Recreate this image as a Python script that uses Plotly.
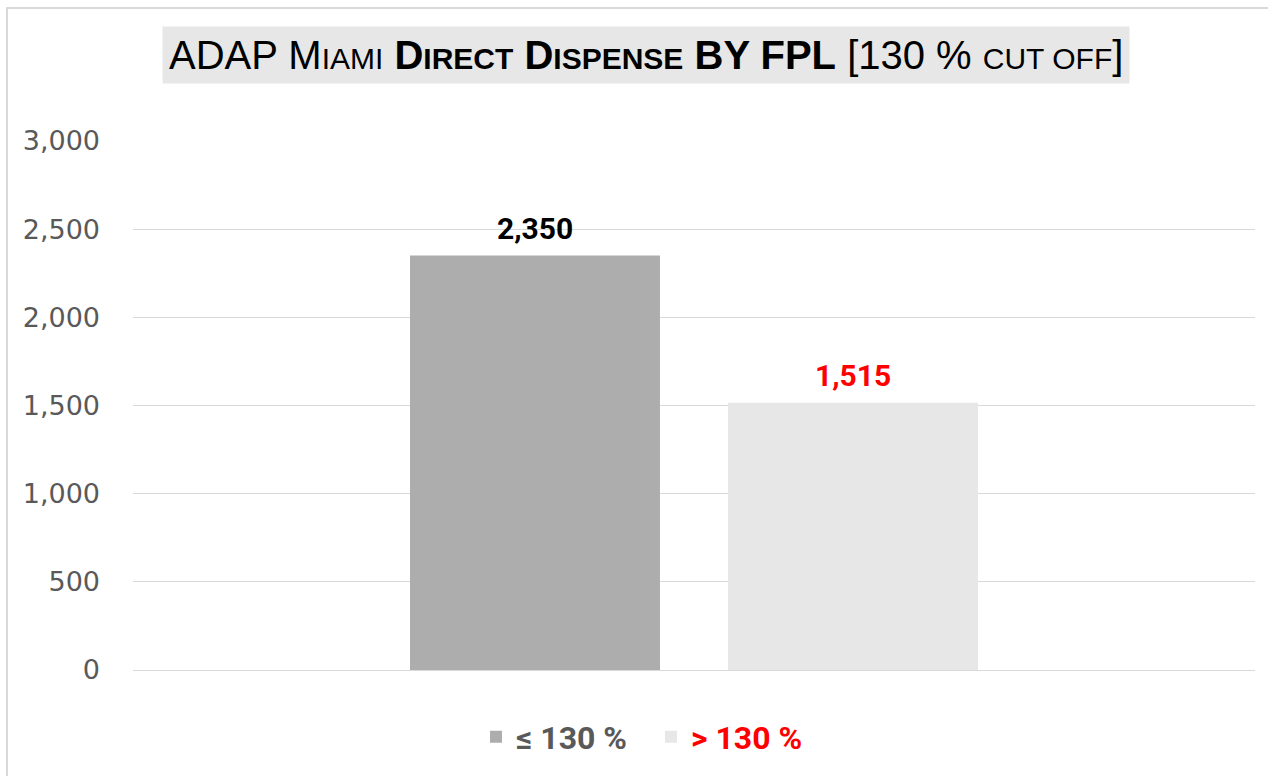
import plotly.graph_objects as go

categories = ["≤ 130 %", "> 130 %"]
values = [2350, 1515]
bar_colors = ["#ADADAD", "#E7E7E7"]
label_colors = ["#000000", "#FF0000"]
legend_colors = ["#595959", "#FF0000"]
tick_vals = [0, 500, 1000, 1500, 2000, 2500, 3000]

W, H = 1268, 776
L, R, T, B = 133, 13, 141, 106
pw, ph = W - L - R, H - T - B

def px_x(x):
    return (x - L) / pw

def px_y(y):
    return (H - B - y) / ph

fig = go.Figure()
annotations = []
for cat, val, col, lcol, lgcol in zip(categories, values, bar_colors, label_colors, legend_colors):
    fig.add_trace(go.Bar(
        x=[cat], y=[val], name=f"<b><span style='color:{lgcol}'>{cat}</span></b>",
        marker=dict(color=col, line=dict(width=0)),
    ))
    annotations.append(dict(x=cat, y=val, xref="x", yref="y", text=f"<b>{val:,}</b>",
                            showarrow=False, yanchor="bottom", yshift=8,
                            font=dict(family="Roboto", size=30, color=lcol)))

s = "font-size:30px"
title = (f"ADAP M<span style='{s}'>IAMI</span> "
         f"<b>D<span style='{s}'>IRECT</span> D<span style='{s}'>ISPENSE</span> BY FPL</b> "
         f"[130 % <span style='{s}'>CUT OFF</span>]")

annotations.append(dict(text=title, xref="paper", yref="paper", x=px_x(646), y=px_y(55),
                        xanchor="center", yanchor="middle", showarrow=False,
                        font=dict(family="Liberation Sans", size=40, color="#000000"),
                        bgcolor="#E7E7E7", borderpad=6))

fig.update_layout(
    width=W, height=H,
    margin=dict(l=L, r=R, t=T, b=B),
    paper_bgcolor="white", plot_bgcolor="white",
    barmode="overlay", bargap=0.214,
    showlegend=True,
    legend=dict(orientation="h", x=px_x(651), xanchor="center", y=px_y(737), yanchor="middle",
                font=dict(family="Roboto", size=32, color="#595959"),
                entrywidth=130, traceorder="normal"),
    xaxis=dict(type="category", range=[-1.264, 2.264], showticklabels=False, showgrid=False,
               zeroline=False, showline=True, linecolor="#D9D9D9", linewidth=1),
    yaxis=dict(range=[0, 3000], tickvals=tick_vals, tickformat=",", showgrid=True,
               gridcolor="#D9D9D9", gridwidth=1, zeroline=False, showline=False,
               ticklabelstandoff=32,
               tickfont=dict(family="DejaVu Sans", size=27, color="#595959")),
    shapes=[dict(type="rect", xref="paper", yref="paper",
                 x0=px_x(7), x1=px_x(1290), y0=px_y(800), y1=px_y(8),
                 line=dict(color="#D9D9D9", width=2), fillcolor="rgba(0,0,0,0)", layer="below")],
    annotations=annotations,
)

fig.write_html("out.html", config={"displayModeBar": False},
               post_script="document.body.style.margin='0';document.body.style.overflow='hidden';")
